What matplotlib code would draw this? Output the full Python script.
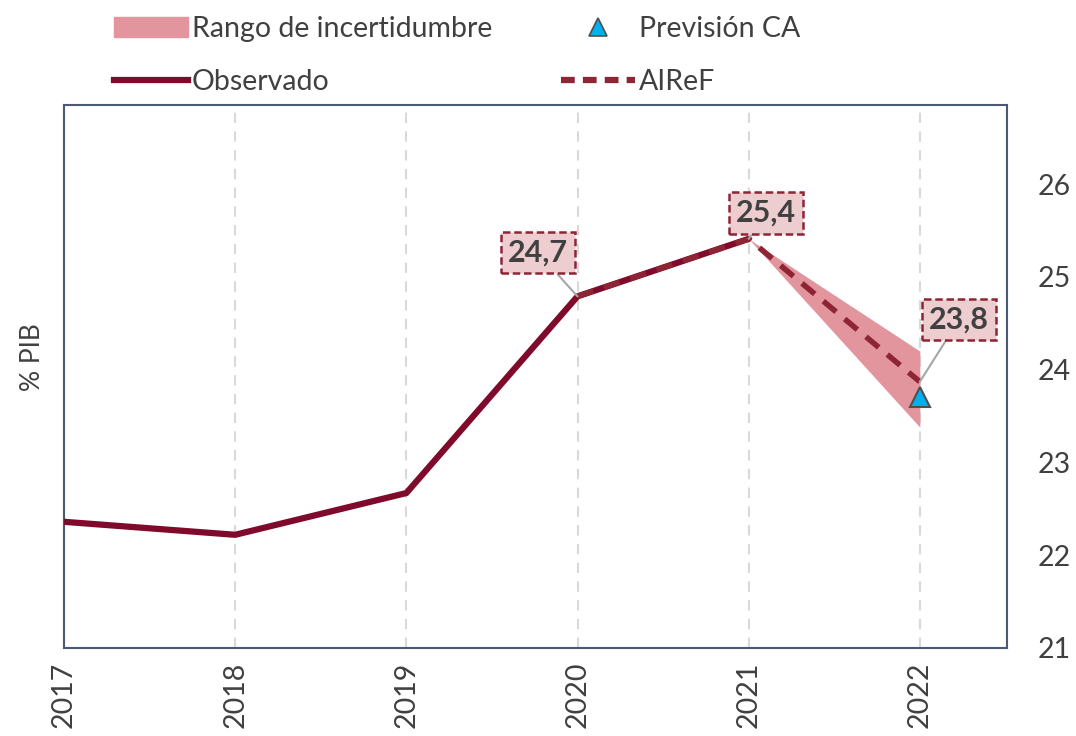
import matplotlib
matplotlib.use("Agg")
import matplotlib.pyplot as plt
from matplotlib.lines import Line2D
from matplotlib.patches import Patch

plt.rcParams['font.family'] = ['Lato', 'DejaVu Sans']

years = [2017, 2018, 2019, 2020, 2021, 2022]
observado = [22.36, 22.22, 22.67, 24.79, 25.41]
airef_years = [2020, 2021, 2022]
airef = [24.79, 25.41, 23.87]
band_years = [2021, 2022]
band_low = [25.41, 23.38]
band_high = [25.41, 24.20]
prev_year = [2022]
prev_ca = [23.71]
labels = ["24,7", "25,4", "23,8"]
label_years = [2020, 2021, 2022]
label_vals = [24.79, 25.41, 23.87]
yticks = [21, 22, 23, 24, 25, 26]

c_obs = '#800A2B'
c_air = '#8E2535'
c_band = '#E3959E'
c_frame = '#4A5A75'
c_text = '#404040'

fig = plt.figure(figsize=(10.76, 7.36), dpi=100)
ax = fig.add_axes([0.0595, 0.1196, 0.8765, 0.7374])

ax.fill_between(band_years, band_low, band_high, color=c_band, lw=0, zorder=2)
ax.plot(years[:len(observado)], observado, color=c_obs, lw=4.5, zorder=3, solid_capstyle='round')
ax.plot(airef_years, airef, color=c_air, lw=4, ls=(0, (3, 2)), zorder=4)
ax.plot(prev_year, prev_ca, ls='none', marker='^', ms=15, mfc='#00B0F0', mec='#505050', mew=1.5, zorder=6)

ax.set_xlim(2017, 2022.51)
ax.set_ylim(21, 26.85)
ax.set_xticks(years)
ax.set_xticklabels([str(y) for y in years], rotation=90, fontsize=20.5, color=c_text)
ax.set_yticks(yticks)
ax.set_yticklabels([str(v) for v in yticks], fontsize=20.5, color=c_text)
ax.yaxis.tick_right()
ax.tick_params(axis='both', length=0)
ax.tick_params(axis='y', pad=22)
ax.tick_params(axis='x', pad=10)
ax.grid(axis='x', color='#D9D9D9', ls=(0, (5, 4)), lw=1.5)
ax.set_axisbelow(True)
for s in ax.spines.values():
    s.set_color(c_frame)
    s.set_linewidth(1.5)

fig.text(0.03, 0.515, '% PIB', rotation=90, fontsize=19, color=c_text, ha='center', va='center')

offsets = [(-0.23, 0.47), (0.1, 0.28), (0.23, 0.67)]
for lab, x, y, (dx, dy) in zip(labels, label_years, label_vals, offsets):
    ax.annotate(lab, xy=(x, y), xytext=(x + dx, y + dy), textcoords='data',
                ha='center', va='center', fontsize=22, fontweight='bold', color=c_text,
                bbox=dict(boxstyle='square,pad=0.22', fc='#EDCDCF', ec=c_air, lw=1.8, ls=(0, (3, 1.5))),
                arrowprops=dict(arrowstyle='-', color='#A6A6A6', lw=1.5, shrinkA=0, shrinkB=0),
                zorder=7)

handles = [Patch(color=c_band),
           Line2D([], [], color=c_obs, lw=4.5),
           Line2D([], [], ls='none', marker='^', ms=13, mfc='#00B0F0', mec='#505050', mew=1.2),
           Line2D([], [], color=c_air, lw=4.5, ls=(0, (2.2, 1.3)))]
names = ['Rango de incertidumbre', 'Observado', 'Previsión CA', 'AIReF']
fig.legend(handles, names, loc='upper left', bbox_to_anchor=(0.095, 0.994), ncol=2, frameon=False,
           fontsize=20.5, labelcolor=c_text, handlelength=2.6, handletextpad=0.15,
           columnspacing=2.4, labelspacing=0.95, borderaxespad=0)

fig.savefig('out.png', dpi=100)
